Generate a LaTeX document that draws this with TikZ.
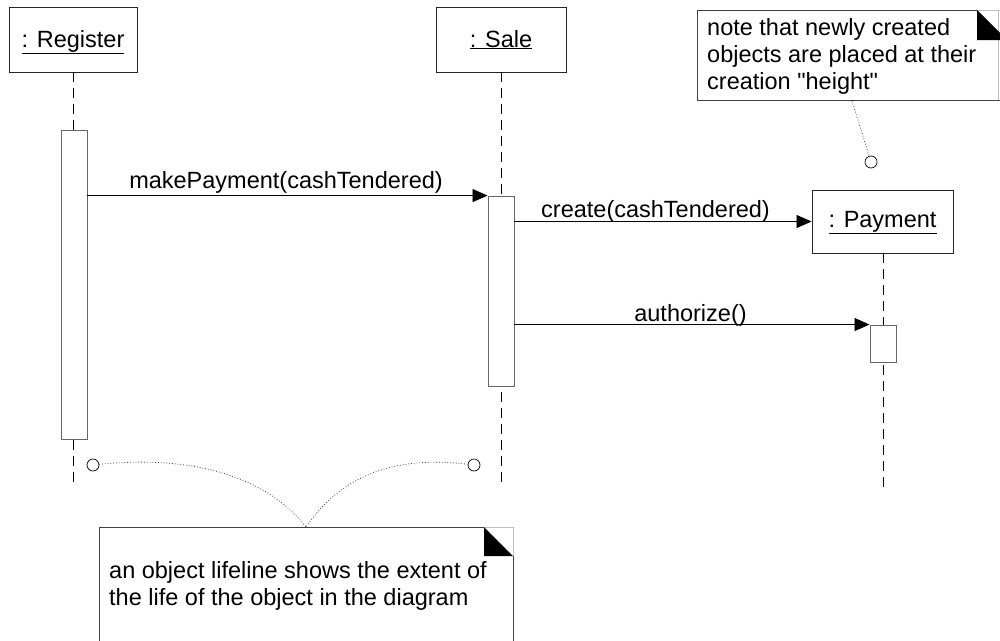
\documentclass[tikz,border=0pt]{standalone}
\usepackage{fontspec}
\setmainfont{Liberation Sans}[Ligatures=TeXOff]
\usetikzlibrary{arrows.meta}
\begin{document}
\begin{tikzpicture}[x=1pt,y=-1pt,
  txt/.style={font=\fontsize{23.5}{27}\selectfont, inner sep=0pt},
  objbox/.style={draw=black!85, line width=0.9pt, fill=white, inner sep=0pt},
  actbox/.style={draw=black!60, line width=0.9pt, fill=white, inner sep=0pt, minimum width=26pt},
  life/.style={draw=black, line width=0.7pt, dash pattern=on 10pt off 6pt},
  msg/.style={draw=black, line width=0.7pt, -{Triangle[length=15pt,width=13pt]}},
  anchorpt/.style={circle, draw=black, line width=0.7pt, fill=white, minimum size=12pt, inner sep=0pt},
  noteline/.style={draw=black!75, line width=0.8pt, dotted},
  noteedge/.style={draw=black!75, line width=0.9pt},
  notecorner/.style={draw=black!25, line width=0.6pt},
]
\useasboundingbox (0,0) rectangle (1000,640);

% lifeline end points
\coordinate (regend) at (73,487);
\coordinate (saleend) at (501,487);
\coordinate (payend) at (883,487);

% object boxes
\node[objbox, minimum width=128pt, minimum height=65pt] (regbox) at (73,39.5) {};
\node[objbox, minimum width=130pt, minimum height=65pt] (salebox) at (501,39.5) {};
\node[objbox, minimum width=141pt, minimum height=63pt] (paybox) at (882.5,221.5) {};

% lifelines
\draw[life] (regbox.south) -- (regend);
\draw[life] (salebox.south) -- (saleend);
\draw[life] (paybox.south -| payend) -- (payend);

% activation bars
\node[actbox, minimum height=309pt] (regact) at (74,284.5) {};
\node[actbox, minimum height=190pt] (saleact) at (501,291) {};
\node[actbox, minimum height=37pt] (payact) at (883,343.5) {};

% object names
\node[txt, anchor=base] (regname) at (73,47) {\underline{: Register}};
\node[txt, anchor=base] (salename) at (501,47) {\underline{: Sale}};
\node[txt, anchor=base] (payname) at (882.5,227) {\underline{: Payment}};

% messages
\draw[msg] (regact.east |- saleact.north) -- (saleact.north west);
\node[txt, anchor=base] (m1) at (286,188) {makePayment(cashTendered)};
\draw[msg] (saleact.east |- paybox.west) -- (paybox.west);
\node[txt, anchor=base] (m2) at (655.5,217) {create(cashTendered)};
\draw[msg] (saleact.east |- payact.north) -- (payact.north west);
\node[txt, anchor=base] (m3) at (690.5,321) {authorize()};

% note about object creation
\path[fill=white] (697,10) rectangle (1000,100);
\draw[noteedge] (977,10) -- (697,10) -- (697,100) -- (1000,100);
\draw[notecorner] (977,10) -- (1000,10);
\draw[notecorner] (998,10) -- (998,100);
\fill[black] (977,10) -- (1000,33) -- (1000,40) -- (977,40) -- cycle;
\node[txt, anchor=north west, align=left] (note1) at (707,18)
  {note that newly created\\objects are placed at their\\creation "height"};
\coordinate (note1foot) at (852,101);
\node[anchorpt] (c1) at (871,162) {};
\draw[noteline] (note1foot) -- (c1);

% note about lifelines
\node[anchorpt] (c2) at (93,465) {};
\node[anchorpt] (c3) at (474,465) {};
\coordinate (note2top) at (306,527);
\draw[noteline] (c2) .. controls (190,455) and (265,475) .. (note2top);
\draw[noteline] (c3) .. controls (390,455) and (340,478) .. (note2top);
\path[fill=white] (99,527) rectangle (513,645);
\draw[noteedge] (99,645) -- (99,527) -- (484,527);
\draw[noteedge] (513,556) -- (513,645);
\draw[notecorner] (484,527) -- (513,527) -- (513,556);
\fill[black] (484,527) -- (513,556) -- (484,556) -- cycle;
\node[txt, anchor=north west, align=left] (note2) at (109,561)
  {an object lifeline shows the extent of\\the life of the object in the diagram};
\end{tikzpicture}
\end{document}
